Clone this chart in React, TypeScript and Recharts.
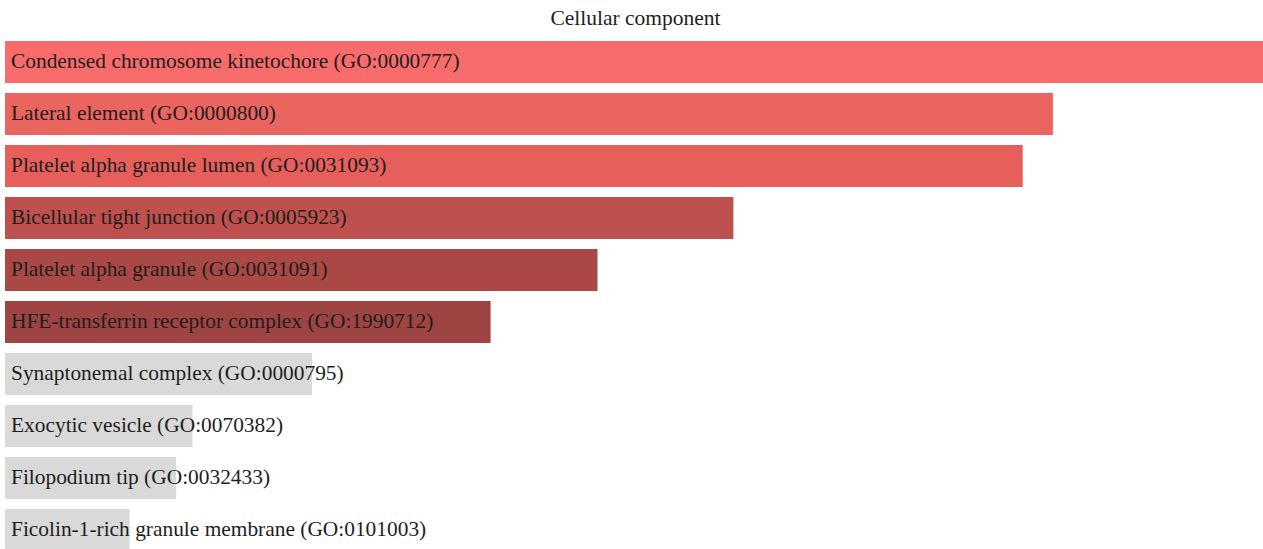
import { Bar, BarChart, Cell, LabelList, XAxis, YAxis } from "recharts"

const terms = [
  "Condensed chromosome kinetochore (GO:0000777)",
  "Lateral element (GO:0000800)",
  "Platelet alpha granule lumen (GO:0031093)",
  "Bicellular tight junction (GO:0005923)",
  "Platelet alpha granule (GO:0031091)",
  "HFE-transferrin receptor complex (GO:1990712)",
  "Synaptonemal complex (GO:0000795)",
  "Exocytic vesicle (GO:0070382)",
  "Filopodium tip (GO:0032433)",
  "Ficolin-1-rich granule membrane (GO:0101003)",
]

const scores = [100, 83.3, 80.9, 57.9, 47.1, 38.6, 24.4, 14.9, 13.6, 9.9]

const colors = [
  "#f86c6c",
  "#ea6460",
  "#e65f5b",
  "#be504d",
  "#aa4845",
  "#9e4442",
  "#d9d9d9",
  "#d9d9d9",
  "#d9d9d9",
  "#d9d9d9",
]

const data = terms.map((term, i) => ({ term, score: scores[i] }))

const FONT = "'Liberation Serif', serif"

const TermLabel = (props: any) => {
  const { x, y, height, value } = props
  return (
    <text
      x={x + 6}
      y={y + height / 2 - 1.5}
      dominantBaseline="central"
      fill="#1e1e1e"
      fontSize={21.4}
      fontFamily={FONT}
    >
      {value}
    </text>
  )
}

export default function App() {
  return (
    <div
      style={{
        position: "absolute",
        left: 0,
        top: 0,
        width: 1263,
        height: 549,
        overflow: "hidden",
        background: "#ffffff",
      }}
    >
      <div
        style={{
          position: "absolute",
          top: 6,
          left: 0,
          width: 1271,
          textAlign: "center",
          fontFamily: FONT,
          fontSize: 21.5,
          color: "#1e1e1e",
        }}
      >
        Cellular component
      </div>
      <BarChart
        width={1263}
        height={556}
        data={data}
        layout="vertical"
        margin={{ top: 36, right: 0, bottom: 0, left: 5 }}
        barSize={42}
      >
        <XAxis type="number" hide domain={[0, 100]} />
        <YAxis type="category" dataKey="term" hide width={0} />
        <Bar dataKey="score" isAnimationActive={false}>
          {data.map((d, i) => (
            <Cell key={d.term} fill={colors[i]} />
          ))}
          <LabelList dataKey="term" content={TermLabel} />
        </Bar>
      </BarChart>
    </div>
  )
}
